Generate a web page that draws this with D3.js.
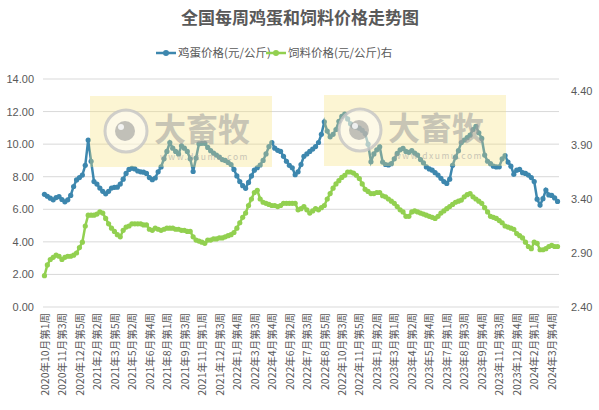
<!DOCTYPE html>
<html>
<head>
<meta charset="utf-8">
<script src="https://cdn.jsdelivr.net/npm/d3@7/dist/d3.min.js"></script>
<style>
  body { margin: 0; background: #fff; }
  text { font-family: "Noto Sans CJK SC", "Noto Sans", sans-serif; }
</style>
</head>
<body>
<script>
//weekly labels shown on the x axis (every 6th week)
var tickLabels = [
    "2020年10月第1周", "2020年11月第3周", "2020年12月第5周", "2021年2月第2周",
    "2021年3月第5周", "2021年5月第2周", "2021年6月第4周", "2021年8月第1周",
    "2021年9月第3周", "2021年11月第1周", "2021年12月第3周", "2022年1月第4周",
    "2022年3月第3周", "2022年4月第4周", "2022年6月第2周", "2022年7月第3周",
    "2022年8月第5周", "2022年10月第3周", "2022年11月第5周", "2023年1月第2周",
    "2023年3月第1周", "2023年4月第2周", "2023年5月第4周", "2023年7月第1周",
    "2023年8月第3周", "2023年9月第4周", "2023年11月第3周", "2023年12月第4周",
    "2024年2月第1周", "2024年3月第4周"
];

//egg price, yuan/kg (left axis)
var eggPrice = [
    6.92, 6.80, 6.68, 6.58, 6.72, 6.78, 6.60, 6.46, 6.58, 6.85,
    7.40, 7.80, 7.95, 8.10, 8.70, 10.25, 8.95, 7.70, 7.55, 7.30,
    7.10, 6.95, 7.10, 7.30, 7.35, 7.36, 7.55, 7.85, 8.20, 8.45,
    8.52, 8.48, 8.35, 8.30, 8.28, 8.20, 7.95, 7.82, 7.92, 8.30,
    8.60, 9.10, 9.55, 10.10, 9.75, 9.55, 9.40, 9.90, 9.75, 9.55,
    9.10, 8.32, 9.15, 10.02, 10.05, 10.05, 9.80, 9.60, 9.45, 9.33,
    9.20, 9.05, 9.00, 8.88, 8.75, 8.45, 8.05, 7.70, 7.45, 7.29,
    7.65, 8.05, 8.40, 8.55, 8.72, 9.00, 9.40, 9.85, 10.10, 9.75,
    9.62, 9.55, 9.25, 8.95, 8.70, 8.55, 8.12, 8.30, 8.75, 9.25,
    9.40, 9.55, 9.70, 9.85, 10.10, 10.60, 11.37, 10.80, 10.45, 10.60,
    10.90, 11.40, 11.70, 11.85, 11.55, 11.25, 11.10, 11.05, 10.98, 10.85,
    10.65, 10.00, 8.92, 9.40, 9.65, 9.84, 8.90, 8.75, 8.72, 8.80,
    9.10, 9.43, 9.65, 9.74, 9.55, 9.50, 9.60, 9.45, 9.33, 9.05,
    8.85, 8.60, 8.48, 8.40, 8.25, 8.10, 7.90, 7.70, 7.59, 7.85,
    8.70, 9.20, 9.60, 10.10, 10.25, 10.40, 10.55, 10.90, 11.10, 10.70,
    10.35, 9.33, 8.95, 8.80, 8.65, 8.60, 8.61, 9.10, 9.30, 8.90,
    8.65, 8.15, 8.40, 8.45, 8.25, 8.20, 8.10, 7.95, 7.70, 6.62,
    6.26, 6.65, 7.18, 6.88, 6.85, 6.70, 6.48
];

//feed price, yuan/kg (right axis)
var feedPrice = [
    2.69, 2.79, 2.84, 2.86, 2.88, 2.87, 2.84, 2.86, 2.87, 2.87,
    2.88, 2.90, 2.95, 3.00, 3.15, 3.25, 3.25, 3.25, 3.26, 3.28,
    3.27, 3.22, 3.17, 3.13, 3.10, 3.07, 3.05, 3.11, 3.14, 3.15,
    3.17, 3.17, 3.17, 3.17, 3.16, 3.16, 3.12, 3.11, 3.13, 3.12,
    3.11, 3.12, 3.13, 3.13, 3.13, 3.12, 3.12, 3.11, 3.11, 3.10,
    3.10, 3.05, 3.02, 3.01, 3.00, 2.99, 3.02, 3.02, 3.03, 3.03,
    3.04, 3.04, 3.05, 3.06, 3.07, 3.09, 3.13, 3.18, 3.23, 3.27,
    3.34, 3.40, 3.46, 3.48, 3.40, 3.37, 3.36, 3.35, 3.34, 3.34,
    3.33, 3.34, 3.36, 3.36, 3.36, 3.36, 3.36, 3.30, 3.31, 3.33,
    3.30, 3.27, 3.29, 3.31, 3.30, 3.32, 3.34, 3.40, 3.45, 3.50,
    3.54, 3.57, 3.60, 3.62, 3.65, 3.65, 3.64, 3.62, 3.59, 3.54,
    3.49, 3.47, 3.45, 3.45, 3.46, 3.46, 3.43, 3.42, 3.40, 3.38,
    3.36, 3.33, 3.30, 3.28, 3.24, 3.24, 3.28, 3.29, 3.28, 3.27,
    3.26, 3.25, 3.24, 3.23, 3.22, 3.24, 3.27, 3.29, 3.31, 3.33,
    3.35, 3.37, 3.38, 3.39, 3.42, 3.44, 3.45, 3.42, 3.40, 3.38,
    3.36, 3.32, 3.28, 3.24, 3.23, 3.22, 3.20, 3.18, 3.15, 3.14,
    3.13, 3.12, 3.08, 3.06, 3.04, 3.00, 2.96, 2.94, 3.00, 2.99,
    2.93, 2.93, 2.94, 2.96, 2.97, 2.96, 2.96
];

var leftTicks = [0, 2, 4, 6, 8, 10, 12, 14];
var rightTicks = [2.4, 2.9, 3.4, 3.9, 4.4];
var labelStep = 6;

var eggColor = "#3d87ae",
    feedColor = "#92d050",
    textColor = "#595959";

window.onload = function(){

    var w = 599,
        h = 410;

    var svg = d3.select("body")
        .append("svg")
        .attr("width", w)
        .attr("height", h);

    //plot box
    var left = 43, right = 559, top = 79, bottom = 307;

    var weeks = d3.range(eggPrice.length);

    var x = d3.scalePoint()
        .domain(weeks)
        .range([left, right])
        .padding(0.5);

    var y = d3.scaleLinear()
        .domain([0, 14])
        .range([bottom, top]);

    //right axis: 2.40 at bottom, 4.40 a bit below the top gridline
    var y2 = d3.scaleLinear()
        .domain([2.4, 4.4])
        .range([bottom, 91]);

    //title
    svg.append("text")
        .attr("x", 300)
        .attr("y", 24)
        .attr("text-anchor", "middle")
        .style("font-size", "17px")
        .style("font-weight", "bold")
        .style("fill", textColor)
        .text("全国每周鸡蛋和饲料价格走势图");

    //legend
    var legend = [
        {name: "鸡蛋价格(元/公斤)", color: eggColor, x: 156},
        {name: "饲料价格(元/公斤)右", color: feedColor, x: 266}
    ];
    var lg = svg.selectAll(".legend")
        .data(legend)
        .enter()
        .append("g")
        .attr("class", "legend")
        .attr("transform", function(d){ return "translate(" + d.x + ",53)"; });
    lg.append("line")
        .attr("x1", 0).attr("x2", 20)
        .attr("stroke", function(d){ return d.color; })
        .attr("stroke-width", 2.5);
    lg.append("circle")
        .attr("cx", 10).attr("r", 3)
        .attr("fill", function(d){ return d.color; });
    lg.append("text")
        .attr("x", 22)
        .attr("y", 4)
        .style("font-size", "11.5px")
        .style("fill", textColor)
        .text(function(d){ return d.name; });

    //gridlines
    svg.append("g")
        .attr("class", "grid")
        .selectAll("line")
        .data(leftTicks)
        .enter()
        .append("line")
        .attr("x1", left)
        .attr("x2", right)
        .attr("y1", function(d){ return y(d); })
        .attr("y2", function(d){ return y(d); })
        .attr("stroke", "#d9d9d9")
        .attr("stroke-width", 1);

    //left axis
    var yAxis = d3.axisLeft(y)
        .tickValues(leftTicks)
        .tickSize(0)
        .tickPadding(0)
        .tickFormat(d3.format(".2f"));
    var gy = svg.append("g")
        .attr("transform", "translate(34,0)")
        .call(yAxis);
    gy.select(".domain").remove();
    gy.selectAll("text")
        .style("font-size", "11px")
        .style("fill", textColor)
        .style("font-family", "'Liberation Sans', Arial, sans-serif");

    //right axis
    var yAxis2 = d3.axisRight(y2)
        .tickValues(rightTicks)
        .tickSize(0)
        .tickPadding(0)
        .tickFormat(d3.format(".2f"));
    var gy2 = svg.append("g")
        .attr("transform", "translate(571,0)")
        .call(yAxis2);
    gy2.select(".domain").remove();
    gy2.selectAll("text")
        .style("font-size", "11px")
        .style("fill", textColor)
        .style("font-family", "'Liberation Sans', Arial, sans-serif");

    //x axis, rotated week labels
    var xAxis = d3.axisBottom(x)
        .tickValues(weeks.filter(function(d){ return d % labelStep === 0; }))
        .tickSize(0)
        .tickFormat(function(d){ return tickLabels[d / labelStep]; });
    var gx = svg.append("g")
        .attr("transform", "translate(0," + bottom + ")")
        .call(xAxis);
    gx.select(".domain").remove();
    gx.selectAll("text")
        .attr("transform", "rotate(-90)")
        .attr("text-anchor", "end")
        .attr("x", -6)
        .attr("y", 0)
        .attr("dy", "0.35em")
        .style("font-size", "10.5px")
        .style("fill", textColor);

    //feed line (right axis)
    var feedLine = d3.line()
        .x(function(d, i){ return x(i); })
        .y(function(d){ return y2(d); });

    svg.append("path")
        .datum(feedPrice)
        .attr("d", feedLine)
        .attr("fill", "none")
        .attr("stroke", feedColor)
        .attr("stroke-width", 2.5);

    svg.selectAll(".feedDot")
        .data(feedPrice)
        .enter()
        .append("circle")
        .attr("class", "feedDot")
        .attr("cx", function(d, i){ return x(i); })
        .attr("cy", function(d){ return y2(d); })
        .attr("r", 2.6)
        .attr("fill", feedColor);

    //egg line (left axis)
    var eggLine = d3.line()
        .x(function(d, i){ return x(i); })
        .y(function(d){ return y(d); });

    svg.append("path")
        .datum(eggPrice)
        .attr("d", eggLine)
        .attr("fill", "none")
        .attr("stroke", eggColor)
        .attr("stroke-width", 2.5);

    svg.selectAll(".eggDot")
        .data(eggPrice)
        .enter()
        .append("circle")
        .attr("class", "eggDot")
        .attr("cx", function(d, i){ return x(i); })
        .attr("cy", function(d){ return y(d); })
        .attr("r", 2.6)
        .attr("fill", eggColor);

    //watermarks on top of the lines
    var marks = [
        {x: 90, y: 96, w: 182, h: 71},
        {x: 324, y: 95, w: 182, h: 71}
    ];
    var wm = svg.selectAll(".wm")
        .data(marks)
        .enter()
        .append("g")
        .attr("class", "wm")
        .attr("transform", function(d){ return "translate(" + d.x + "," + d.y + ")"; });
    wm.append("rect")
        .attr("width", function(d){ return d.w; })
        .attr("height", function(d){ return d.h; })
        .attr("fill", "#f5e27a")
        .attr("opacity", 0.33);
    wm.append("circle")
        .attr("cx", 36).attr("cy", 35).attr("r", 21)
        .attr("fill", "#ffffff").attr("fill-opacity", 0.45)
        .attr("stroke", "#c4c4c4").attr("stroke-width", 3).attr("stroke-opacity", 0.8);
    wm.append("circle")
        .attr("cx", 35).attr("cy", 35).attr("r", 10)
        .attr("fill", "#9a9a9a").attr("opacity", 0.6);
    wm.append("circle")
        .attr("cx", 31).attr("cy", 31).attr("r", 3)
        .attr("fill", "#ffffff").attr("opacity", 0.8);
    wm.append("text")
        .attr("x", 64)
        .attr("y", 45)
        .style("font-size", "32px")
        .style("font-weight", "bold")
        .style("fill", "#9e9e9e")
        .style("opacity", 0.55)
        .text("大畜牧");
    wm.append("text")
        .attr("x", 70)
        .attr("y", 64)
        .style("font-size", "8.5px")
        .style("letter-spacing", "1.5px")
        .style("fill", "#9e9e9e")
        .style("opacity", 0.55)
        .text("www.dxumu.com");
};
</script>
</body>
</html>
